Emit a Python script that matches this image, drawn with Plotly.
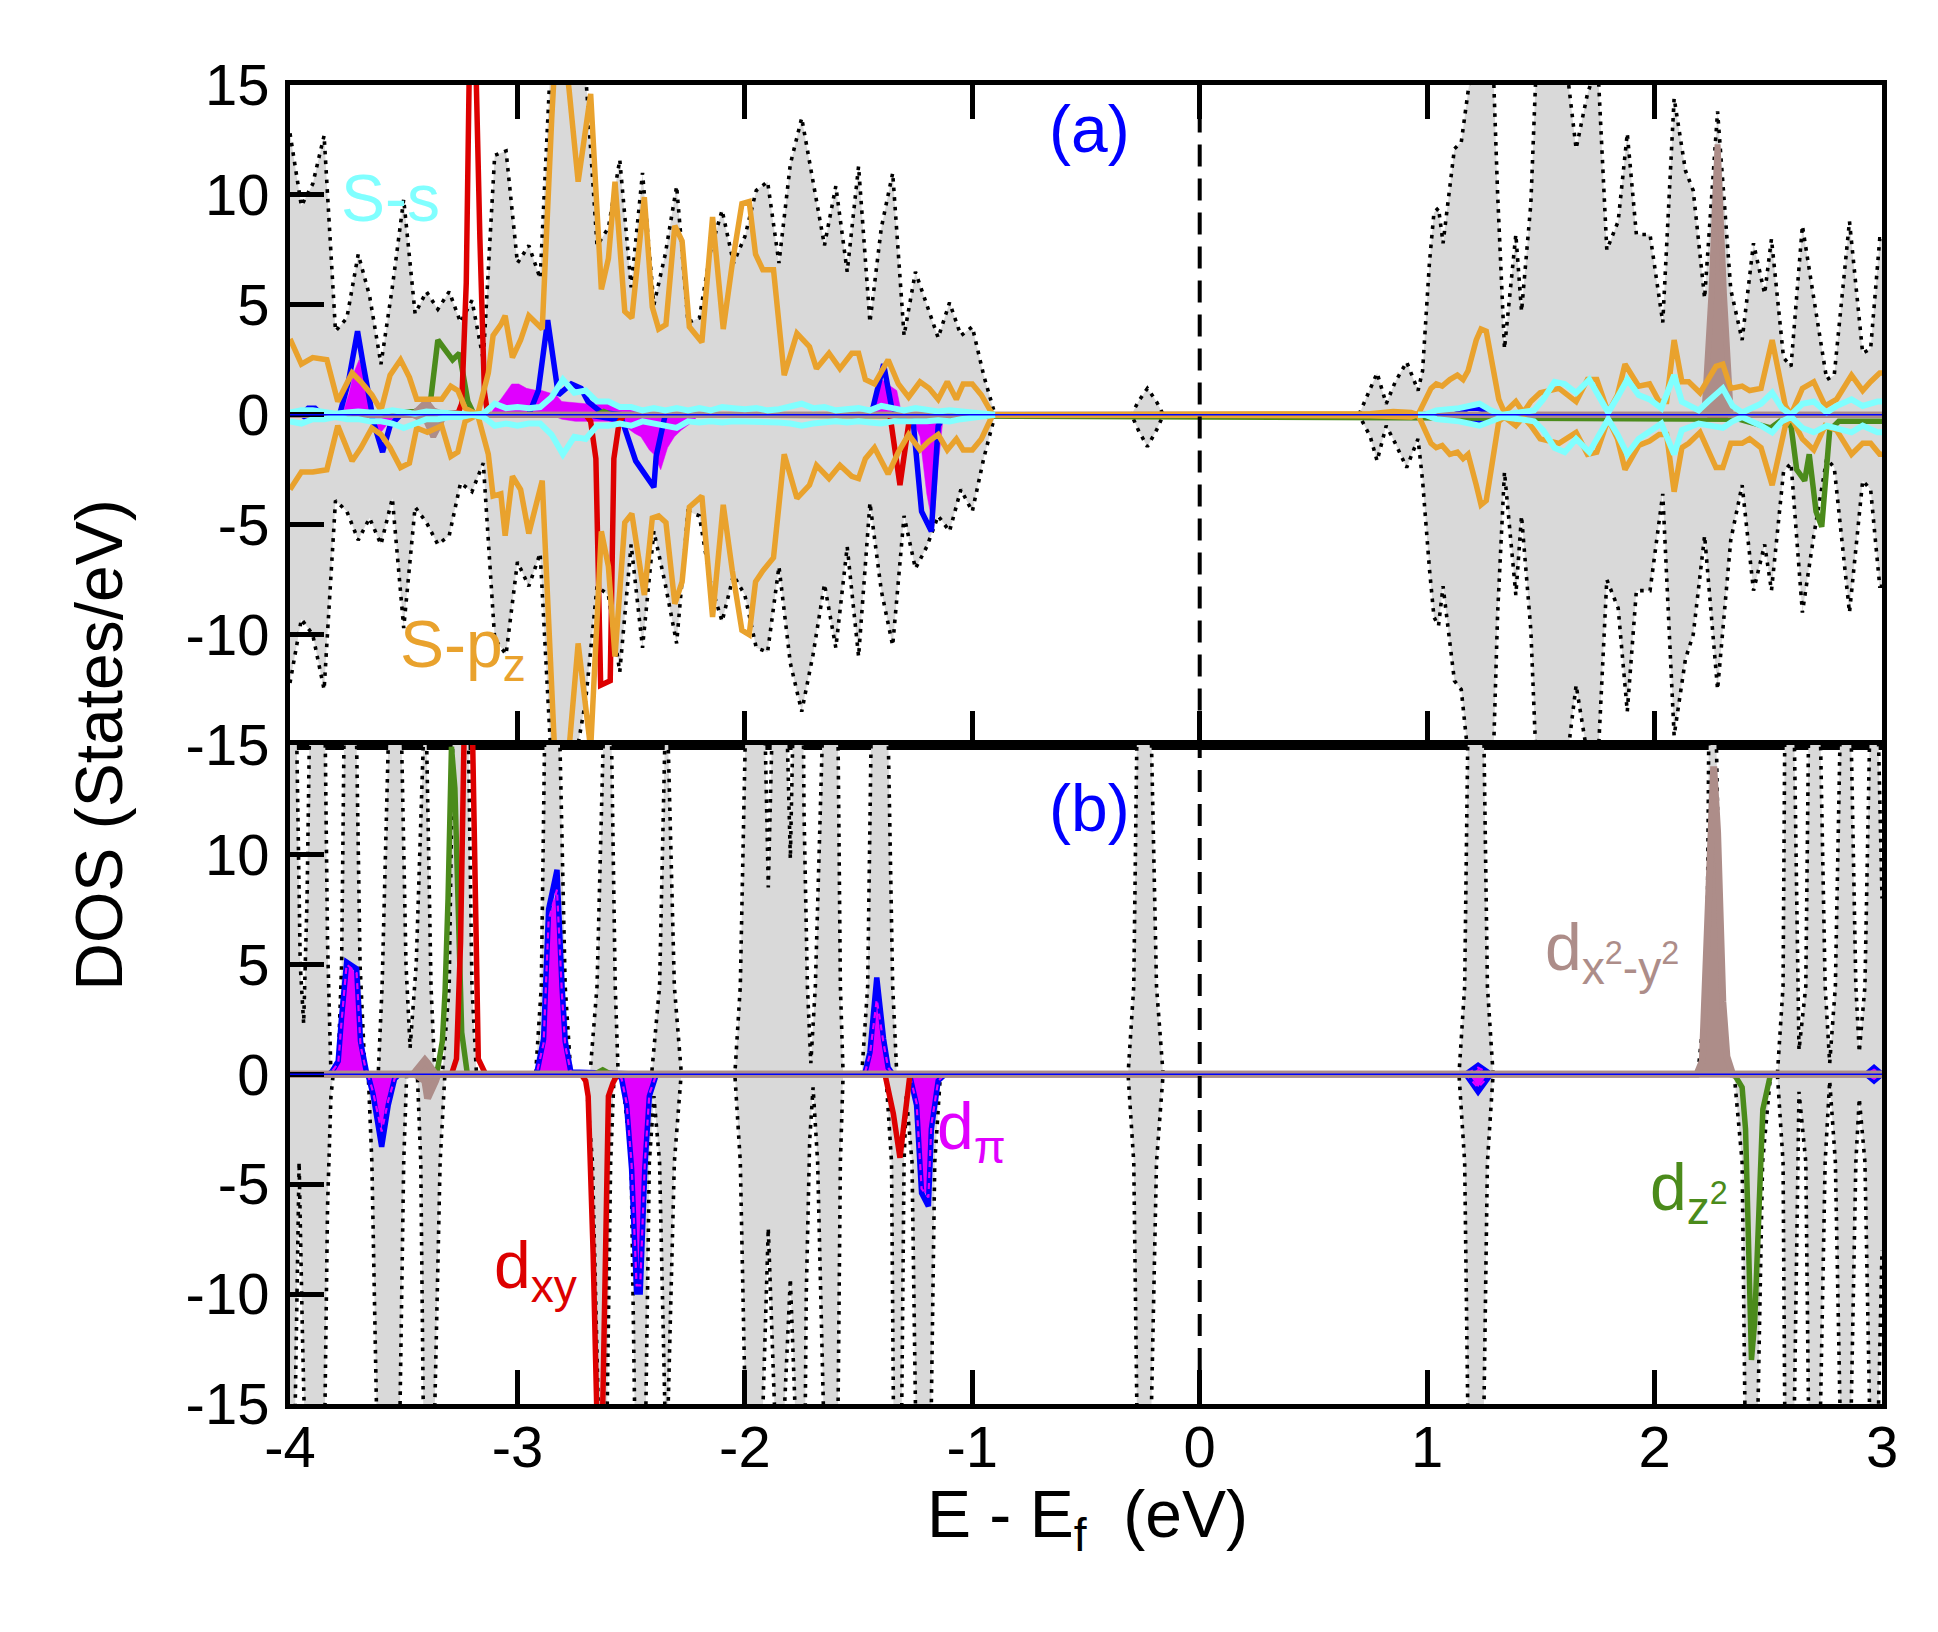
import plotly.graph_objects as go
from plotly.subplots import make_subplots

# ---------------- data: panel (a) ----------------
# energy grid of the occupied block (eV)
E_LEFT = [-4.00, -3.95, -3.90, -3.85, -3.80, -3.75, -3.70, -3.65, -3.60, -3.55,
          -3.50, -3.45, -3.40, -3.35, -3.30, -3.25, -3.20, -3.15, -3.10, -3.05,
          -3.00, -2.95, -2.90, -2.85, -2.80, -2.75, -2.70, -2.65, -2.60, -2.55,
          -2.50, -2.45, -2.40, -2.35, -2.30, -2.25, -2.20, -2.15, -2.10, -2.05,
          -2.00, -1.95, -1.90, -1.85, -1.80, -1.75, -1.70, -1.65, -1.60, -1.55,
          -1.50, -1.45, -1.40, -1.35, -1.30, -1.25, -1.20, -1.15, -1.10, -1.05,
          -1.00, -0.95, -0.90]
E_RIGHT = [-0.30, -0.27, -0.23, -0.19, -0.16, 0.70, 0.75, 0.78, 0.82, 0.86,
           0.91, 0.96, 0.98, 1.01, 1.03, 1.05, 1.07, 1.12, 1.15, 1.18,
           1.21, 1.25, 1.29, 1.31, 1.34, 1.39, 1.415, 1.456, 1.48, 1.52,
           1.56, 1.60, 1.655, 1.705, 1.75, 1.77, 1.79, 1.84, 1.88, 1.92,
           1.98, 2.036, 2.086, 2.136, 2.17, 2.22, 2.277, 2.335, 2.385, 2.435,
           2.484, 2.514, 2.567, 2.60, 2.65, 2.70, 2.757, 2.79, 2.857, 2.915,
           2.95, 2.99, 3.0]

tot_a_up_left = [12.8, 9.5, 10.5, 12.7, 3.8, 4.4, 7.3, 5.4, 2.3, 5.8,
                 9.8, 4.6, 5.6, 4.8, 5.6, 4.2, 5.2, 2.5, 11.8, 12.0,
                 6.9, 7.7, 6.2, 17, 19, 17, 15.5, 7.7, 8.5, 11.6,
                 5.8, 11.0, 5.0, 7.3, 10.4, 4.2, 4.4, 7.5, 9.3, 6.9,
                 8.1, 10.2, 10.6, 6.9, 11.4, 13.5, 10.6, 7.7, 10.4, 6.5,
                 11.3, 4.2, 8.5, 11.0, 3.6, 6.5, 5.0, 3.5, 5.1, 3.6,
                 4.0, 1.8, 0]
tot_a_dn_left = [-12.2, -9.3, -10.0, -12.5, -3.9, -4.4, -5.7, -4.7, -5.9, -3.8,
                 -9.7, -4.2, -4.9, -5.9, -5.5, -3.1, -3.5, -2.2, -10.2, -10.9,
                 -6.7, -7.8, -6.3, -16, -18, -16, -13, -7.8, -8.2, -11.7,
                 -5.9, -10.6, -5.3, -7.7, -10.4, -4.4, -4.6, -7.7, -9.4, -7.3,
                 -8.2, -10.6, -10.8, -6.9, -11.3, -13.5, -10.9, -7.7, -10.6, -6.0,
                 -11.0, -4.0, -8.0, -10.5, -4.6, -7.0, -6.0, -4.6, -5.3, -3.4,
                 -4.4, -2.0, 0]
tot_a_up_right = [0, 0.6, 1.2, 0.6, 0, 0, 1.2, 1.9, 0.5, 1.5,
                  2.4, 1.1, 2.0, 6.9, 9.2, 9.4, 7.8, 12.1, 12.4, 14.6,
                  17, 18, 16, 10, 3.0, 8.2, 4.7, 9.6, 16, 19,
                  18, 17, 12.1, 14.6, 16, 12, 7.5, 8.8, 12.8, 8.2,
                  8.2, 4.2, 14.4, 11.1, 10.2, 5.3, 13.8, 5.7, 3.4, 7.8,
                  5.5, 8.0, 2.6, 2.2, 8.6, 5.3, 1.6, 1.8, 8.8, 2.8,
                  3.0, 8.0, 8.0]
tot_a_dn_right = [0, -0.7, -1.45, -0.7, 0, 0, -1.0, -2.1, -0.5, -1.3,
                  -2.4, -1.1, -3.0, -7.0, -9.2, -9.6, -7.8, -12.1, -12.5, -15.5,
                  -17, -18, -16, -9, -2.6, -8.2, -4.6, -9.8, -16, -19,
                  -18, -17, -12.3, -15.5, -16, -12, -7.5, -8.8, -13.5, -8.0,
                  -8.0, -3.6, -14.6, -11.1, -10.0, -5.5, -12.5, -5.7, -3.2, -8.0,
                  -5.9, -8.0, -2.6, -2.2, -9.0, -5.5, -2.0, -2.4, -9.0, -3.0,
                  -3.4, -7.8, -7.8]

# S-pz
spz_e = [-4.00, -3.95, -3.90, -3.838, -3.79, -3.727, -3.688, -3.64, -3.60, -3.56,
         -3.514, -3.475, -3.443, -3.396, -3.333, -3.293, -3.262, -3.23, -3.175, -3.128,
         -3.107, -3.073, -3.054, -3.022, -2.986, -2.95, -2.891, -2.849, -2.82, -2.773,
         -2.733, -2.678, -2.631, -2.60, -2.571, -2.528, -2.497, -2.442, -2.407, -2.379,
         -2.347, -2.308, -2.276, -2.244, -2.189, -2.142, -2.095, -2.055, -2.013, -1.981,
         -1.953, -1.921, -1.874, -1.827, -1.771, -1.716, -1.685, -1.63, -1.582, -1.53,
         -1.50, -1.47, -1.43, -1.37, -1.325, -1.28, -1.23, -1.19, -1.15, -1.11,
         -1.07, -1.04, -1.00, -0.96, -0.91,
         0.75, 0.85, 0.93, 0.96,
         1.017, 1.04, 1.066, 1.10, 1.133, 1.158, 1.18, 1.216, 1.237, 1.26,
         1.315, 1.34, 1.39, 1.423, 1.456, 1.497, 1.58, 1.655, 1.705, 1.746,
         1.796, 1.837, 1.87, 1.93, 1.978, 2.02, 2.053, 2.086, 2.12, 2.15,
         2.20, 2.27, 2.30, 2.335, 2.385, 2.418, 2.468, 2.517, 2.575, 2.60,
         2.65, 2.70, 2.75, 2.80, 2.866, 2.915, 2.95, 2.99, 3.0]
spz_up = [3.45, 2.3, 2.6, 2.5, 0.6, 1.9, 1.5, 0.9, 0.2, 1.8,
          2.5, 1.7, 0.7, 0.7, 0.7, 1.3, 1.1, 0.3, 0, 1.9,
          3.6, 4.1, 4.5, 2.6, 3.4, 4.5, 3.9, 13.5, 19, 14.8,
          10.6, 14.6, 5.7, 7.1, 10.6, 4.7, 4.4, 9.9, 4.9, 3.9,
          4.1, 8.6, 7.9, 4.0, 3.3, 9.0, 3.9, 6.9, 9.6, 9.7,
          7.3, 6.6, 6.6, 1.8, 3.7, 3.1, 2.1, 2.8, 2.1, 2.8,
          2.8, 1.6, 1.4, 2.5, 1.4, 0.8, 1.5, 1.2, 0.7, 1.5,
          0.7, 1.4, 1.4, 0.9, 0,
          0.05, 0.15, 0.1, 0,
          1.2, 1.4, 1.3, 1.6, 1.8, 1.6, 2.0, 3.4, 3.9, 3.8,
          0.7, 0.1, 0.6, 0.1, 0.6, 1.0, 1.2, 0.6, 1.6, 1.6,
          0.1, 0.9, 2.3, 1.3, 1.4, 0.6, 0.6, 3.4, 1.5, 1.5,
          1.0, 2.2, 2.3, 1.2, 1.3, 1.1, 1.2, 3.4, 0.4, 0,
          1.2, 1.5, 0.4, 0.7, 1.8, 1.1, 1.5, 1.9, 1.9]
spz_dn = [-3.4, -2.6, -2.6, -2.5, -0.5, -2.1, -1.5, -0.6, -0.9, -1.5,
          -2.4, -2.2, -0.6, -0.8, -0.5, -1.9, -1.7, -0.3, 0, -1.8,
          -3.7, -3.6, -5.5, -2.8, -3.4, -5.4, -3.0, -12.5, -19, -15.2,
          -10.4, -15.2, -5.3, -6.9, -11.0, -4.9, -4.5, -8.2, -4.7, -4.6,
          -4.9, -8.6, -7.6, -4.2, -3.7, -9.2, -4.1, -7.1, -9.8, -10.0,
          -7.6, -7.1, -6.5, -1.8, -3.8, -3.2, -2.3, -2.9, -2.3, -2.8,
          -2.9, -2.0, -1.5, -2.7, -1.7, -0.9, -1.6, -1.2, -0.9, -1.6,
          -1.1, -1.6, -1.6, -1.1, 0,
          -0.05, -0.1, -0.1, 0,
          -1.3, -1.5, -1.4, -1.8, -1.7, -2.0, -1.8, -3.2, -4.1, -3.9,
          -0.3, -0.1, -0.5, -0.1, -0.5, -1.1, -1.3, -0.8, -1.8, -1.7,
          -0.2, -1.1, -2.5, -1.4, -1.2, -0.9, -0.9, -3.5, -1.5, -1.3,
          -0.8, -2.4, -2.4, -1.3, -1.3, -1.1, -1.5, -3.2, -0.5, -0.1,
          -1.1, -1.6, -0.5, -0.7, -1.8, -1.3, -1.3, -1.8, -1.8]

# S-s (occupied block on E_LEFT, then conduction block)
ss_up_left = [0.1, 0.2, 0.2, 0.1, 0.05, 0.1, 0.15, 0.1, 0.1, 0.2,
              0.1, 0.05, 0.15, 0.1, 0.05, 0.05, 0.0, 0.05, 0.5, 0.3,
              0.35, 0.3, 0.35, 0.8, 1.6, 1.0, 1.1, 0.6, 0.6, 0.35,
              0.35, 0.2, 0.3, 0.2, 0.3, 0.2, 0.3, 0.2, 0.35, 0.3,
              0.25, 0.3, 0.2, 0.25, 0.4, 0.5, 0.3, 0.35, 0.2, 0.25,
              0.3, 0.2, 0.4, 0.3, 0.2, 0.3, 0.2, 0.15, 0.2, 0.15,
              0.1, 0.05, 0.0]
ss_dn_left = [-0.3, -0.4, -0.2, -0.2, -0.1, -0.2, -0.2, -0.3, -0.3, -0.4,
              -0.6, -0.4, -0.2, -0.2, -0.1, -0.1, 0.0, -0.1, -0.5, -0.4,
              -0.5, -0.4, -0.4, -0.9, -1.8, -1.0, -1.1, -0.5, -0.5, -0.4,
              -0.5, -0.3, -0.4, -0.5, -0.6, -0.3, -0.35, -0.3, -0.35, -0.3,
              -0.3, -0.35, -0.3, -0.35, -0.4, -0.5, -0.4, -0.35, -0.3, -0.35,
              -0.3, -0.35, -0.4, -0.3, -0.3, -0.35, -0.3, -0.25, -0.3, -0.2,
              -0.15, -0.05, 0.0]
ss_e_right = [0.96, 0.99, 1.04, 1.14, 1.23, 1.28, 1.33, 1.406, 1.47, 1.51,
              1.56, 1.605, 1.655, 1.713, 1.746, 1.796, 1.837, 1.88, 1.93, 1.978,
              2.03, 2.086, 2.12, 2.194, 2.235, 2.30, 2.343, 2.385, 2.468, 2.517,
              2.56, 2.60, 2.65, 2.70, 2.757, 2.80, 2.866, 2.915, 2.98, 3.0]
ss_up_right = [0, 0, 0.2, 0.3, 0.5, 0.2, 0, 0.1, 0.2, 0.7,
               1.5, 1.4, 1.0, 1.6, 1.0, 0.1, 0.8, 1.6, 0.9, 0.7,
               0.3, 1.8, 0.6, 0.2, 0.6, 1.2, 0.4, 0.1, 0.5, 1.0,
               0.3, 0, 0.5, 0.6, 0.1, 0.4, 0.7, 0.4, 0.6, 0.6]
ss_dn_right = [0, 0, -0.2, -0.3, -0.5, -0.3, -0.1, -0.2, -0.3, -0.7,
               -1.5, -1.7, -1.1, -1.7, -1.1, -0.2, -0.9, -1.8, -1.1, -0.8,
               -0.4, -1.8, -0.7, -0.4, -0.5, -0.6, -0.3, -0.1, -0.5, -0.8,
               -0.3, -0.1, -0.6, -0.8, -0.5, -0.6, -0.8, -0.5, -0.8, -0.8]

# d projections, panel (a)
dpi_a_e = [-4.0, -3.77, -3.74, -3.72, -3.696, -3.67, -3.65, -3.63, -3.60, -3.57,
           -3.53, -3.12, -3.09, -3.073, -3.025, -2.994, -2.96, -2.915, -2.893, -2.86,
           -2.83, -2.805, -2.745, -2.70, -2.63, -2.60, -2.545, -2.484, -2.457, -2.42,
           -2.40, -2.37, -2.34, -2.31, -2.28, -2.24, -2.20, -1.44, -1.427, -1.398,
           -1.36, -1.332, -1.31, -1.266, -1.23, -1.20, -1.171, -1.15, -1.127, 3.0]
dpi_a_up = [0, 0, 1.0, 1.9, 2.5, 1.6, 0.3, 0, 0, 0,
            0, 0, 0.5, 0.7, 1.4, 1.4, 1.2, 1.1, 1.1, 1.0,
            0.9, 0.6, 0.55, 0.5, 0.65, 0.5, 0.35, 0.25, 0.2, 0.15,
            0.1, 0.1, 0.05, 0, 0, 0, 0, 0, 0.3, 1.6,
            1.3, 1.1, 0, 0, 0, 0, 0, 0, 0, 0]
dpi_a_dn = [0, 0, 0, 0, 0, 0, -0.1, -0.5, -0.8, -0.4,
            0, 0, 0, 0, 0, 0, 0, 0, 0, 0,
            -0.1, -0.2, -0.3, -0.3, -0.3, -0.3, -0.4, -0.85, -1.0, -1.6,
            -1.8, -2.5, -1.5, -1.0, -0.7, -0.4, 0, 0, 0, 0,
            0, 0, 0, -0.1, -1.0, -3.6, -5.2, -2.3, 0, 0]

blue_a_e = [-4.0, -3.95, -3.92, -3.89, -3.86, -3.782, -3.743, -3.703, -3.68, -3.648,
            -3.64, -3.593, -3.56, -3.514, -2.95, -2.908, -2.867, -2.82, -2.763, -2.72,
            -2.69, -2.63, -2.54, -2.48, -2.46, -2.40, -2.39, -2.35, -1.46, -1.442,
            -1.39, -1.354, -1.30, -1.26, -1.223, -1.18, -1.15, -1.12, 1.12, 1.18,
            1.22, 1.26, 1.30, 3.0]
blue_a_up = [0, 0, 0.3, 0.3, 0, 0, 1.5, 3.8, 2.4, 0.3,
             0.1, 0, 0, 0, 0, 1.1, 4.3, 0.9, 1.4, 1.2,
             0.6, 0.1, 0, 0, 0, 0, 0, 0, 0, 0.1,
             2.3, 0.3, 0, 0, 0, 0, 0, 0, 0, 0.3,
             0.3, 0.2, 0, 0]
blue_a_dn = [0, 0, -0.2, -0.2, 0, 0, 0, 0, 0, 0,
             -0.1, -1.7, -0.5, 0, 0, 0, 0, 0, 0, 0,
             0, -0.1, -0.25, -2.1, -2.4, -3.3, -1.9, 0, 0, 0,
             0, 0, -0.1, -0.3, -4.4, -5.3, -0.5, 0, 0, -0.2,
             -0.4, -0.2, 0, 0]

dxy_a_e = [-4.0, -3.26, -3.245, -3.225, -3.21, -3.185, -3.165, -3.145, -3.13, -2.70,
           -2.678, -2.655, -2.634, -2.592, -2.576, -2.552, -2.53, -1.362, -1.318, -1.274, 3.0]
dxy_a_up = [0, 0.1, 0.5, 6, 17, 17, 8, 1, 0, 0,
            0, 0, 0, 0, 0, 0, 0, 0, 0, 0, 0]
dxy_a_dn = [0, 0, 0, 0, 0, 0, 0, 0, 0, 0,
            -0.3, -2.0, -12.3, -12.1, -2.0, -0.3, 0, 0, -3.2, 0, 0]

dz2_a_e = [-4.0, -3.60, -3.45, -3.41, -3.38, -3.35, -3.285, -3.255, -3.218, -3.19,
           -2.65, -2.62, -2.59, 2.37, 2.51, 2.55, 2.60, 2.625, 2.66, 2.68,
           2.71, 2.735, 2.77, 2.81, 3.0]
dz2_a_up = [0, 0.05, 0.15, 0.3, 0.8, 3.4, 2.5, 2.8, 0.6, 0,
            0, 0.15, 0, 0, 0, 0, 0, 0, 0, 0,
            0, 0, 0, 0, 0]
dz2_a_dn = [0, 0, 0, 0, 0, 0, 0, 0, 0, 0,
            0, 0, 0, -0.2, -0.6, -0.3, -0.5, -2.5, -3.0, -1.8,
            -4.4, -5.1, -0.7, -0.3, -0.3]

dx2_a_e = [-4.0, -3.46, -3.40, -3.37, -3.32, 2.219, 2.25, 2.277, 2.305, 2.335, 3.0]
dx2_a_up = [0, 0, 0.6, 0.2, 0, 0, 5.5, 12.3, 5.5, 0, 0]
dx2_a_dn = [0, 0, -0.3, -1.0, 0, 0, 0, 0, 0, 0, 0]

# ---------------- data: panel (b) ----------------
tot_b_up_e = [-4.0, -3.97, -3.955, -3.94, -3.925, -3.912, -3.88, -3.846, -3.835, -3.82,
              -3.79, -3.773, -3.758, -3.732, -3.707, -3.692, -3.67,
              -3.612, -3.595, -3.568, -3.54, -3.509, -3.49, -3.472,
              -3.445, -3.414, -3.405, -3.399, -3.38, -3.363,
              -3.33, -3.30, -3.285, -3.25, -3.215, -3.20, -3.18,
              -2.92, -2.895, -2.872, -2.842, -2.813, -2.79, -2.765,
              -2.681, -2.65, -2.623, -2.605, -2.586, -2.57, -2.557,
              -2.41, -2.375, -2.352, -2.345, -2.337, -2.31, -2.279,
              -2.044, -2.02, -2.0, -1.95, -1.92, -1.897, -1.87, -1.85, -1.825, -1.80,
              -1.78, -1.76, -1.74, -1.725, -1.71, -1.69, -1.66, -1.62, -1.59, -1.58, -1.568,
              -1.486, -1.46, -1.442, -1.405, -1.369, -1.35, -1.332,
              -0.315, -0.29, -0.271, -0.24, -0.212, -0.19, -0.161,
              1.14, 1.165, 1.18, 1.215, 1.25, 1.265, 1.29,
              2.19, 2.23, 2.249, 2.26, 2.272, 2.29, 2.33,
              2.54, 2.565, 2.575, 2.592, 2.615, 2.635, 2.665, 2.685, 2.708, 2.73,
              2.75, 2.77, 2.795, 2.815, 2.841, 2.865, 2.885, 2.90, 2.925, 2.945,
              2.965, 2.985, 3.0]
tot_b_up = [30, 15, 5, 2.3, 8, 16, 40, 16, 6, 0,
            0, 5, 15, 45, 15, 5, 0,
            0, 4, 15, 45, 15, 5, 1.2,
            5, 15, 30, 15, 4, 0,
            0, 4, 15, 40, 15, 4, 0,
            0, 4, 15, 45, 15, 4, 0,
            0, 4, 15, 45, 15, 4, 0,
            0, 4, 15, 45, 15, 4, 0,
            0, 4, 15, 40, 20, 8.5, 20, 40, 20, 9.8,
            20, 40, 12, 4, 0.5, 4, 15, 45, 15, 4, 0,
            0, 4, 15, 45, 15, 4, 0,
            0, 4, 15, 45, 15, 4, 0,
            0, 4, 15, 45, 15, 4, 0,
            0, 4, 15, 45, 15, 4, 0,
            0, 4, 15, 45, 15, 1.1, 4, 15, 45, 15,
            4, 0.5, 4, 15, 45, 15, 4, 1.0, 4, 15,
            45, 15, 8]
tot_b_dn_e = [-4.0, -3.975, -3.96, -3.945, -3.93, -3.88, -3.846, -3.835, -3.82, -3.81,
              -3.656, -3.64, -3.62, -3.568, -3.516, -3.50, -3.487,
              -3.44, -3.425, -3.407, -3.385, -3.363, -3.34, -3.319,
              -2.70, -2.67, -2.645, -2.625, -2.605, -2.59, -2.575,
              -2.54, -2.50, -2.485, -2.46, -2.435, -2.42, -2.40,
              -2.375, -2.352, -2.345, -2.337, -2.31, -2.28,
              -2.044, -2.02, -2.0, -1.95, -1.92, -1.897, -1.87, -1.85, -1.825, -1.80,
              -1.78, -1.755, -1.73, -1.715, -1.70, -1.68, -1.655, -1.62, -1.59, -1.58, -1.568,
              -1.38, -1.355, -1.34, -1.325, -1.31, -1.30, -1.29, -1.265, -1.25, -1.21,
              -1.18, -1.165, -1.14,
              -0.315, -0.29, -0.271, -0.24, -0.212, -0.19, -0.161,
              1.14, 1.165, 1.18, 1.215, 1.25, 1.265, 1.29,
              2.35, 2.385, 2.405, 2.43, 2.455, 2.475, 2.51,
              2.54, 2.565, 2.575, 2.592, 2.615, 2.635, 2.665, 2.685, 2.708, 2.73,
              2.75, 2.77, 2.795, 2.815, 2.841, 2.865, 2.885, 2.90, 2.925, 2.945,
              2.965, 2.985, 3.0]
tot_b_dn = [-30, -15, -4, -12, -25, -40, -15, -6, -1, 0,
            0, -4, -15, -45, -15, -4, 0,
            0, -4, -15, -45, -15, -4, 0,
            0, -4, -15, -45, -15, -4, 0,
            0, -4, -15, -45, -15, -4, -1,
            -4, -15, -45, -15, -4, 0,
            0, -4, -15, -40, -15, -7, -15, -40, -15, -9.3,
            -15, -40, -10, -3, -0.6, -4, -15, -45, -15, -4, 0,
            0, -4, -15, -45, -15, -4, -1, -4, -15, -45,
            -15, -4, 0,
            0, -4, -15, -45, -15, -4, 0,
            0, -4, -15, -45, -15, -4, 0,
            0, -4, -15, -45, -15, -4, 0,
            0, -4, -15, -45, -15, -0.8, -4, -15, -45, -15,
            -4, -0.3, -4, -15, -45, -15, -4, -1.1, -4, -15,
            -45, -15, -8]

dpi_b_e = [-4.0, -3.83, -3.817, -3.788, -3.774, -3.751, -3.707, -3.69, -3.664, -3.655,
           -3.635, -3.597, -3.568, -3.54, -3.52, -2.94, -2.914, -2.885, -2.863, -2.826,
           -2.804, -2.79, -2.765, -2.56, -2.542, -2.52, -2.498, -2.476, -2.46, -2.44,
           -2.42, -2.389, -1.49, -1.471, -1.45, -1.42, -1.39, -1.37, -1.35, -1.28,
           -1.274, -1.245, -1.223, -1.193, -1.18, -1.15, -1.12, 1.17, 1.224, 1.28,
           2.93, 2.965, 3.0]
blue_b_up = [0, 0, 0.1, 0.6, 2.5, 5.1, 4.8, 1.5, 0.1, 0,
             0, 0, 0, 0, 0, 0, 0.1, 1.6, 7.5, 9.3,
             4.0, 1.5, 0.1, 0, 0, 0, 0, 0, 0, 0,
             0, 0, 0, 0.1, 1.0, 4.4, 1.6, 0.3, 0, 0,
             0, 0, 0, 0, 0, 0, 0, 0, 0.4, 0,
             0, 0.3, 0]
blue_b_dn = [0, 0, 0, 0, 0, 0, 0, 0, 0, -0.1,
             -0.9, -3.3, -1.4, -0.2, 0, 0, 0, 0, 0, 0,
             0, 0, 0, 0, -0.2, -1.4, -4.3, -9.9, -9.9, -4.3,
             -1.0, 0, 0, 0, 0, 0, 0, 0, 0, 0,
             -0.1, -1.4, -5.4, -6.0, -2.5, -0.3, 0, 0, -0.8, 0,
             0, -0.3, 0]
mag_b_up = [0, 0, 0.1, 0.5, 2.3, 5.0, 4.6, 1.3, 0.1, 0,
            0, 0, 0, 0, 0, 0, 0.1, 1.4, 7.0, 8.4,
            3.6, 1.3, 0.1, 0, 0, 0, 0, 0, 0, 0,
            0, 0, 0, 0.1, 0.9, 3.4, 1.4, 0.3, 0, 0,
            0, 0, 0, 0, 0, 0, 0, 0, 0.3, 0,
            0, 0.2, 0]
mag_b_dn = [0, 0, 0, 0, 0, 0, 0, 0, 0, -0.1,
            -0.8, -2.6, -1.2, -0.2, 0, 0, 0, 0, 0, 0,
            0, 0, 0, 0, -0.2, -1.3, -4.1, -9.6, -9.6, -4.1,
            -0.9, 0, 0, 0, 0, 0, 0, 0, 0, 0,
            -0.1, -1.3, -5.2, -5.6, -2.3, -0.3, 0, 0, -0.6, 0,
            0, -0.2, 0]

dxy_b_e = [-4.0, -3.29, -3.268, -3.25, -3.232, -3.216, -3.20, -3.185, -3.172, -3.14,
           -2.72, -2.70, -2.689, -2.667, -2.645, -2.63, -2.617, -2.60, -2.58, -2.56,
           -1.384, -1.347, -1.318, -1.296, -1.274, 3.0]
dxy_b_up = [0, 0, 0.7, 6, 17, 24, 17, 6, 0.7, 0,
            0, 0, 0, 0, 0, 0, 0, 0, 0, 0,
            0, 0, 0, 0, 0, 0]
dxy_b_dn = [0, 0, 0, 0, 0, 0, 0, 0, 0, 0,
            0, -0.3, -1.0, -8.2, -18, -18, -9.2, -1.0, -0.4, 0,
            0, -1.8, -3.8, -1.8, 0, 0]

dz2_b_e = [-4.0, -3.355, -3.33, -3.318, -3.305, -3.29, -3.275, -3.26, -3.245, -3.22,
           -2.66, -2.625, -2.59, 2.35, 2.385, 2.40, 2.41, 2.426, 2.44, 2.46,
           2.476, 2.51, 3.0]
dz2_b_up = [0, 0, 1.5, 3.8, 8, 14.9, 13, 6.9, 1.9, 0,
            0, 0.2, 0, 0, 0, 0, 0, 0, 0, 0,
            0, 0, 0]
dz2_b_dn = [0, 0, 0, 0, 0, 0, 0, 0, 0, 0,
            0, 0, 0, 0, -0.6, -2.5, -6.4, -13.0, -11.3, -6.4,
            -1.6, 0, 0]

dx2_b_e = [-4.0, -3.46, -3.45, -3.407, -3.395, -3.36, -3.35, 2.186, 2.21, 2.227,
           2.244, 2.26, 2.277, 2.30, 2.318, 2.343, 3.0]
dx2_b_up = [0, 0, 0.1, 0.65, 0.5, 0, 0, 0, 0.6, 5.2,
            11, 14.0, 11, 3.3, 0.8, 0, 0]
dx2_b_dn = [0, 0, 0, -0.3, -1.1, -0.3, 0, 0, 0, 0,
            0, 0, 0, 0, 0, 0, 0]

X_TICKS = [-4, -3, -2, -1, 0, 1, 2, 3]
X_TICK_TEXT = ["-4", "-3", "-2", "-1", "0", "1", "2", "3"]
Y_TICKS_A = [-15, -10, -5, 0, 5, 10, 15]
Y_TICK_TEXT_A = ["-15", "-10", "-5", "0", "5", "10", "15"]
Y_TICKS_B = [-15, -10, -5, 0, 5, 10]
Y_TICK_TEXT_B = ["-15", "-10", "-5", "0", "5", "10"]

# ---------------- style ----------------
FONT = "Liberation Sans, Arial, Helvetica, sans-serif"
GRAY = "#D9D9D9"
ORANGE = "#E9A22D"
CYAN = "#80FFFF"
BLUE = "#0000FF"
MAGENTA = "#E000FF"
RED = "#DD0000"
GREEN = "#4B8B1B"
BROWN = "#AD8D89"
LW = 5.5  # width of the projected-DOS curves

fig = make_subplots(rows=2, cols=1, vertical_spacing=0)


def line(x, y, color, width, row, dash=None, fill=None, fillcolor=None):
    fig.add_trace(go.Scatter(
        x=x, y=y, mode="lines",
        line=dict(color=color, width=width, dash=dash),
        fill=fill, fillcolor=fillcolor,
        hoverinfo="skip", showlegend=False,
    ), row=row, col=1)


def total(x, y, row):
    line(x, y, "black", 3.6, row, dash="3.6px,6px", fill="tozeroy", fillcolor=GRAY)


# panel (a)
total(E_LEFT + E_RIGHT, tot_a_up_left + tot_a_up_right, 1)
total(E_LEFT + E_RIGHT, tot_a_dn_left + tot_a_dn_right, 1)
line(dpi_a_e, dpi_a_up, MAGENTA, 0.5, 1, fill="tozeroy", fillcolor=MAGENTA)
line(dpi_a_e, dpi_a_dn, MAGENTA, 0.5, 1, fill="tozeroy", fillcolor=MAGENTA)
line(blue_a_e, blue_a_up, BLUE, LW, 1)
line(blue_a_e, blue_a_dn, BLUE, LW, 1)
line(dz2_a_e, dz2_a_up, GREEN, LW, 1)
line(dz2_a_e, dz2_a_dn, GREEN, LW, 1)
line(dxy_a_e, dxy_a_up, RED, LW, 1)
line(dxy_a_e, dxy_a_dn, RED, LW, 1)
line(dx2_a_e, dx2_a_up, BROWN, 6, 1, fill="tozeroy", fillcolor=BROWN)
line(dx2_a_e, dx2_a_dn, BROWN, 6, 1, fill="tozeroy", fillcolor=BROWN)
line(spz_e, spz_up, ORANGE, LW, 1)
line(spz_e, spz_dn, ORANGE, LW, 1)
line(E_LEFT + [None] + ss_e_right, ss_up_left + [None] + ss_up_right, CYAN, 6, 1)
line(E_LEFT + [None] + ss_e_right, ss_dn_left + [None] + ss_dn_right, CYAN, 6, 1)

# panel (b)
total(tot_b_up_e, tot_b_up, 2)
total(tot_b_dn_e, tot_b_dn, 2)
line(dpi_b_e, mag_b_up, MAGENTA, 0.5, 2, fill="tozeroy", fillcolor=MAGENTA)
line(dpi_b_e, mag_b_dn, MAGENTA, 0.5, 2, fill="tozeroy", fillcolor=MAGENTA)
line(dpi_b_e, blue_b_up, BLUE, LW, 2)
line(dpi_b_e, blue_b_dn, BLUE, LW, 2)
line(dpi_b_e, mag_b_up, MAGENTA, 2.2, 2, dash="6px,5px")
line(dpi_b_e, mag_b_dn, MAGENTA, 2.2, 2, dash="6px,5px")
line(dz2_b_e, dz2_b_up, GREEN, LW, 2)
line(dz2_b_e, dz2_b_dn, GREEN, LW, 2)
line(dxy_b_e, dxy_b_up, RED, LW, 2)
line(dxy_b_e, dxy_b_dn, RED, LW, 2)
line(dx2_b_e, dx2_b_up, BROWN, 7, 2, fill="tozeroy", fillcolor=BROWN)
line(dx2_b_e, dx2_b_dn, BROWN, 7, 2, fill="tozeroy", fillcolor=BROWN)

# axes
axis_common = dict(ticks="inside", ticklen=34, tickwidth=5, tickcolor="black",
                   showline=True, linewidth=5, linecolor="black",
                   showgrid=False, zeroline=False,
                   tickfont=dict(family=FONT, size=58, color="black"))
fig.update_xaxes(range=[-4, 3], tickvals=X_TICKS, ticktext=X_TICK_TEXT, **axis_common)
fig.update_xaxes(mirror="ticks", showticklabels=False, row=1, col=1)
fig.update_xaxes(mirror=True, showticklabels=True, ticklabelstandoff=-12, row=2, col=1)
fig.update_yaxes(range=[-15, 15], mirror=True, ticklabelstandoff=4, **axis_common)
fig.update_yaxes(tickvals=Y_TICKS_A, ticktext=Y_TICK_TEXT_A, row=1, col=1)
fig.update_yaxes(tickvals=Y_TICKS_B, ticktext=Y_TICK_TEXT_B, row=2, col=1)

# Fermi level and zero reference lines
for yref, xref in (("y domain", "x"), ("y2 domain", "x2")):
    fig.add_shape(type="line", xref=xref, yref=yref, x0=0, x1=0, y0=0, y1=1,
                  line=dict(color="black", width=4, dash="22px,12px"), layer="above")
for yref, xref in (("y", "x"), ("y2", "x2")):
    fig.add_shape(type="line", xref=xref, yref=yref, x0=-4, x1=3, y0=0, y1=0,
                  line=dict(color=BLUE, width=1.4), layer="above")


def label(text, x, y, color, xref="x", yref="y", xanchor="left"):
    fig.add_annotation(text=text, x=x, y=y, xref=xref, yref=yref,
                       xanchor=xanchor, yanchor="middle", showarrow=False,
                       font=dict(family=FONT, size=66, color=color))


label("(a)", -0.486, 13.0, BLUE, xanchor="center")
label("(b)", -0.486, 12.1, BLUE, "x2", "y2", xanchor="center")
label("S-s", -3.557, 9.85, CYAN, xanchor="center")
label("S-p<sub>z</sub>", -3.523, -10.65, ORANGE)
label("d<sub>xy</sub>", -3.113, -8.9, RED, "x2", "y2")
label("d<sub>π</sub>", -1.165, -2.6, MAGENTA, "x2", "y2")
label("d<sub>x<sup>2</sup>-y<sup>2</sup></sub>", 1.51, 5.55, BROWN, "x2", "y2")
label("d<sub>z<sup>2</sup></sub>", 1.97, -5.35, GREEN, "x2", "y2")

fig.add_annotation(text="DOS (States/eV)", x=-0.1205, y=0.5, xref="paper", yref="paper",
                   textangle=-90, showarrow=False, xanchor="center", yanchor="middle",
                   font=dict(family=FONT, size=66, color="black"))
fig.add_annotation(text="E - E<sub>f</sub>  (eV)", x=0.501, y=-0.0875, xref="paper", yref="paper",
                   showarrow=False, xanchor="center", yanchor="middle",
                   font=dict(family=FONT, size=66, color="black"))

fig.update_layout(width=1938, height=1632,
                  margin=dict(l=282, r=64, t=77, b=236),
                  plot_bgcolor="white", paper_bgcolor="white",
                  showlegend=False)

fig.write_html("out.html")
